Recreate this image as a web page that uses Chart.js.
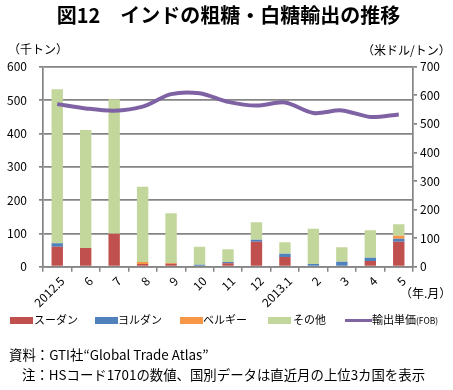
<!DOCTYPE html>
<html>
<head>
<meta charset="utf-8">
<script src="https://cdn.jsdelivr.net/npm/chart.js@4"></script>
<style>
  body { margin: 0; background: #fff; }
  #wrap { position: relative; width: 453px; height: 390px; font-family: "Noto Sans CJK JP", "Noto Sans", sans-serif; color: #000; }
  #chart { position: absolute; left: 0; top: 0; }
  .t { position: absolute; white-space: nowrap; line-height: 1; }
  .box { position: absolute; width: 23px; height: 7px; }
</style>
</head>
<body>
<div id="wrap">
  <canvas id="chart" width="453" height="390"></canvas>
  <div class="t" style="left:2px;width:453px;text-align:center;top:5px;font-size:20px;font-weight:bold;">図12　インドの粗糖・白糖輸出の推移</div>
  <div class="t" style="left:8px;top:43px;font-size:12px;">（千トン）</div>
  <div class="t" style="left:362px;top:44px;font-size:12px;">（米ドル/トン）</div>
  <div class="t" style="left:400px;top:287px;font-size:12px;">（年.月）</div>

  <div class="box" style="left:10px;top:317px;background:#C0504D;"></div>
  <div class="t" style="left:34px;top:314px;font-size:11px;">スーダン</div>
  <div class="box" style="left:95px;top:317px;background:#4F81BD;"></div>
  <div class="t" style="left:118px;top:314px;font-size:11px;">ヨルダン</div>
  <div class="box" style="left:180px;top:317px;background:#F79646;"></div>
  <div class="t" style="left:203px;top:314px;font-size:11px;">ベルギー</div>
  <div class="box" style="left:268px;top:317px;background:#C3D69B;"></div>
  <div class="t" style="left:293px;top:314px;font-size:11px;">その他</div>
  <div class="box" style="left:345px;top:319px;width:27px;height:3px;background:#8064A2;"></div>
  <div class="t" style="left:372px;top:314px;font-size:11px;">輸出単価<span style="font-size:8.5px;">(FOB)</span></div>

  <div class="t" style="left:9px;top:348px;font-size:13.4px;">資料：GTI社“Global Trade Atlas”</div>
  <div class="t" style="left:22px;top:368px;font-size:13.4px;">注：HSコード1701の数値、国別データは直近月の上位3カ国を表示</div>
</div>
<script>
const months = ["2012.5","6","7","8","9","10","11","12","2013.1","2","3","4","5"];

// thousand tonnes
const sudan   = [60, 56, 99, 8, 9, 0, 10, 75, 29, 0, 0, 17, 75];
const jordan  = [10, 0, 0, 0, 0, 6, 4, 6, 10, 8, 15, 10, 9];
const belgium = [0, 0, 0, 6, 2, 0, 0, 0, 0, 0, 0, 0, 9];
const others  = [462, 354, 403, 226, 149, 54, 38, 52, 34, 106, 43, 82, 34];

// US$/tonne
const unitPrice = [569, 554, 546, 560, 604, 607, 577, 564, 575, 538, 547, 524, 533];

const leftTicks = [0, 100, 200, 300, 400, 500, 600];
const rightTicks = [0, 100, 200, 300, 400, 500, 600, 700];

const gridGray = "#858585";
const tickFont = { family: "'Noto Sans CJK JP', 'Noto Sans', sans-serif", size: 12 };

function bar(label, data, color) {
  return {
    type: "bar", label, data, backgroundColor: color,
    yAxisID: "y", stack: "s", order: 1,
    categoryPercentage: 1, barPercentage: 0.4
  };
}

new Chart(document.getElementById("chart"), {
  data: {
    labels: months,
    datasets: [
      {
        type: "line", label: "輸出単価(FOB)", data: unitPrice, yAxisID: "y1",
        borderColor: "#7F62A4", borderWidth: 4, pointRadius: 0, tension: 0.3,
        fill: false, order: 0
      },
      bar("スーダン", sudan, "#C0504D"),
      bar("ヨルダン", jordan, "#4F81BD"),
      bar("ベルギー", belgium, "#F79646"),
      bar("その他", others, "#C3D69B")
    ]
  },
  options: {
    responsive: false,
    animation: false,
    layout: { padding: { top: 66.7, left: 0, right: 0, bottom: 0 } },
    plugins: { legend: { display: false }, tooltip: { enabled: false } },
    scales: {
      x: {
        stacked: true,
        grid: { drawOnChartArea: false, drawTicks: true, tickLength: 5, color: gridGray, lineWidth: 1.5, offset: true },
        border: { color: gridGray, width: 1.5 },
        ticks: { minRotation: 45, maxRotation: 45, padding: 2, labelOffset: 5, color: "#000", font: tickFont, autoSkip: false },
        afterFit: s => { s.height = 123.3; }
      },
      y: {
        stacked: true, position: "left", min: 0, max: 600,
        afterBuildTicks: s => { s.ticks = leftTicks.map(v => ({ value: v })); },
        grid: { color: gridGray, lineWidth: 1.7, tickLength: 4 },
        border: { color: gridGray, width: 1.7 },
        ticks: { padding: 12, color: "#000", font: tickFont },
        afterFit: s => { s.width = 43; }
      },
      y1: {
        position: "right", min: 0, max: 700,
        afterBuildTicks: s => { s.ticks = rightTicks.map(v => ({ value: v })); },
        grid: { drawOnChartArea: false, color: gridGray, lineWidth: 1.7, tickLength: 4 },
        border: { color: gridGray, width: 1.7 },
        ticks: { padding: 3, color: "#000", font: tickFont },
        afterFit: s => { s.width = 40; }
      }
    }
  }
});
</script>
</body>
</html>
